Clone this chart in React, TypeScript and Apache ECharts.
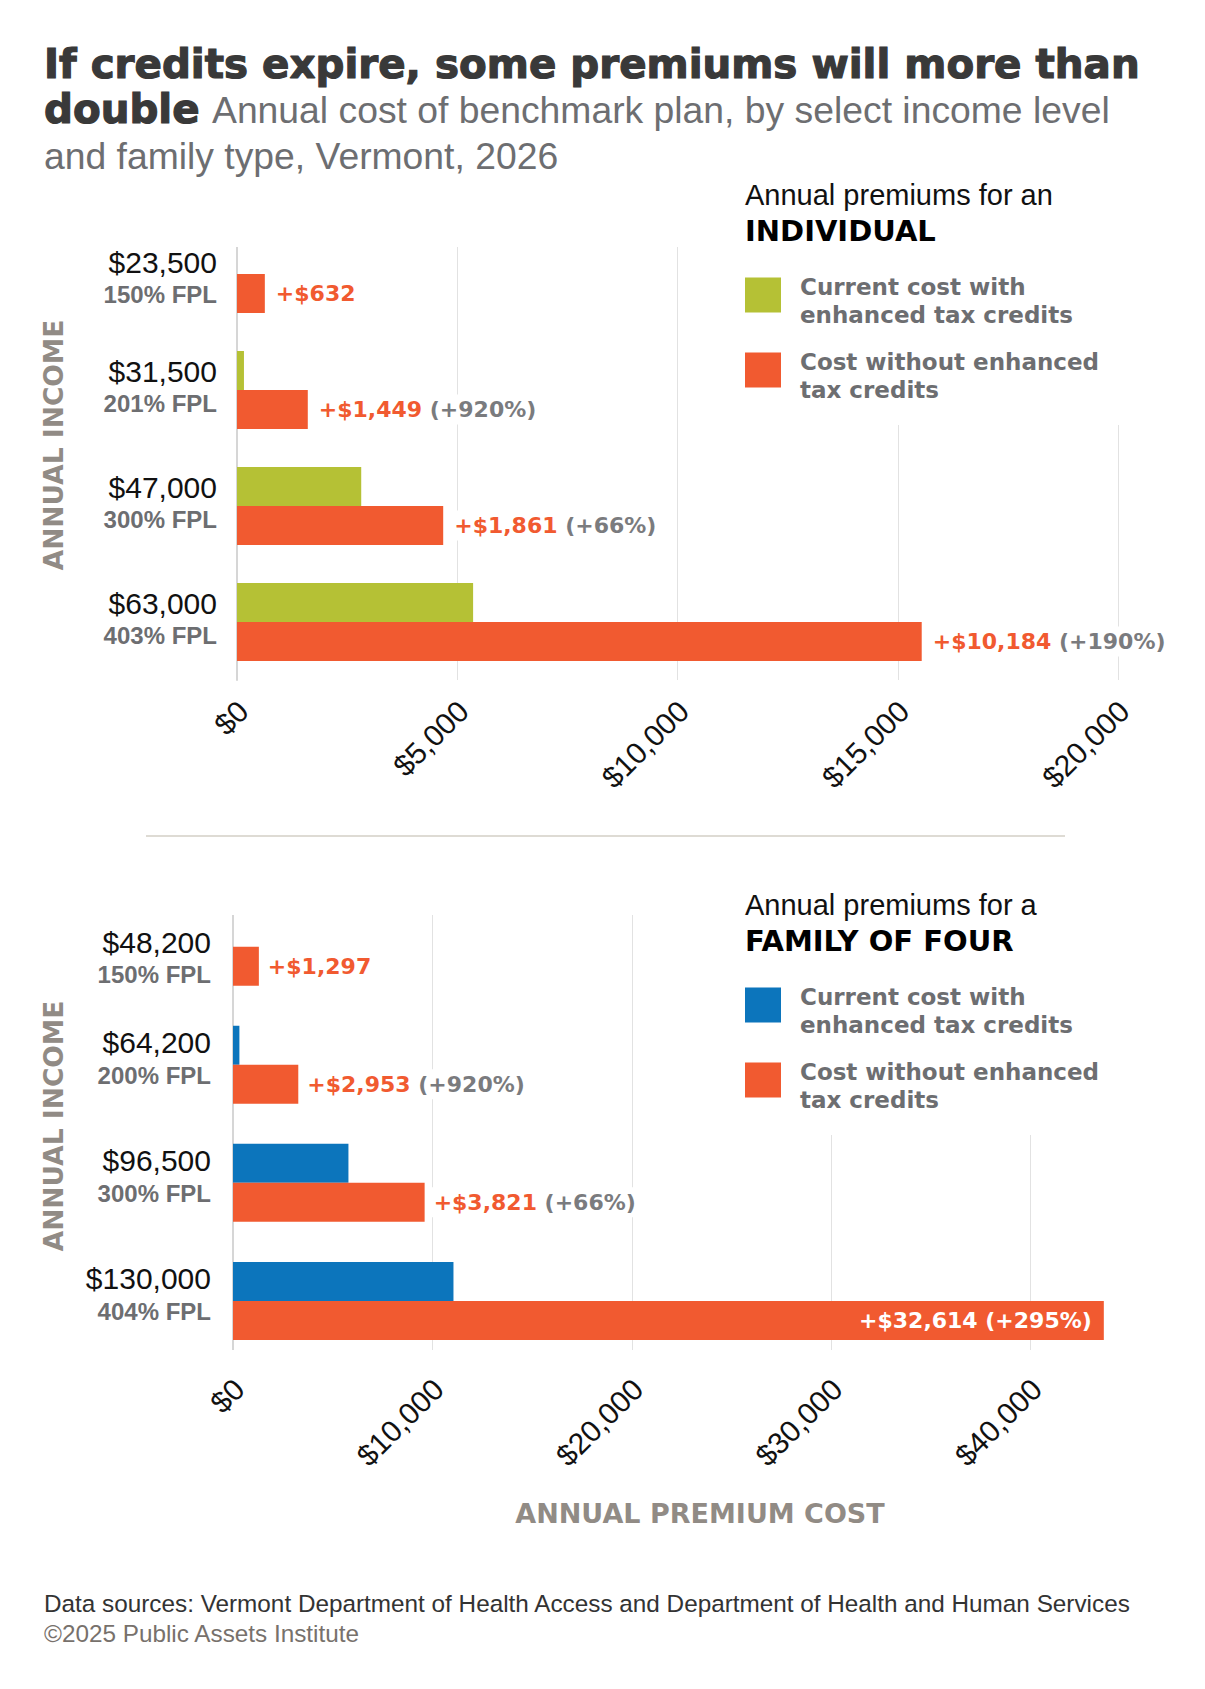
import React, { useEffect, useRef } from "react";
import * as echarts from "echarts";

// ---------- DATA ----------
const individualIncome = ["$23,500", "$31,500", "$47,000", "$63,000"];
const individualFpl = ["150% FPL", "201% FPL", "300% FPL", "403% FPL"];
const individualCurrent = [0, 158, 2820, 5360];
const individualWithout = [632, 1607, 4681, 15544];
const individualIncrease = ["+$632", "+$1,449", "+$1,861", "+$10,184"];
const individualPct = ["", "(+920%)", "(+66%)", "(+190%)"];
const individualAxisMax = 20000;
const individualAxisStep = 5000;

const familyIncome = ["$48,200", "$64,200", "$96,500", "$130,000"];
const familyFpl = ["150% FPL", "200% FPL", "300% FPL", "404% FPL"];
const familyCurrent = [0, 321, 5789, 11056];
const familyWithout = [1297, 3274, 9610, 43670];
const familyIncrease = ["+$1,297", "+$2,953", "+$3,821", "+$32,614"];
const familyPct = ["", "(+920%)", "(+66%)", "(+295%)"];
const familyAxisMax = 44000;
const familyAxisStep = 10000;

// ---------- STYLE ----------
const ORANGE = "#F15A30";
const GREEN = "#B5C135";
const BLUE = "#0C75BC";
const GRAY = "#6D6E71";
const PCT_GRAY = "#7A7B7E";
const AXIS_TITLE = "#918B85";
const SANS = "'Liberation Sans', Arial, sans-serif";
const WIDE = "'DejaVu Sans', Verdana, sans-serif";

const money = (v: number) => "$" + Math.round(v).toLocaleString("en-US");

function txt(
  x: number,
  baseline: number,
  text: string,
  fontSize: number,
  fontFamily: string,
  fontWeight: string,
  fill: string,
  extra: any = {}
) {
  return {
    type: "text",
    x,
    y: baseline - 0.35 * fontSize,
    z: 10,
    style: {
      text,
      fontSize,
      fontFamily,
      fontWeight,
      fill,
      align: "left",
      verticalAlign: "middle",
      ...extra,
    },
  };
}

function catData(inc: string[], fpl: string[], firstPad: number[], restPad: number[]) {
  return inc.map((v, i) => ({
    value: v + "\n" + fpl[i],
    textStyle: { padding: i === 0 ? firstPad : restPad },
  }));
}

const richLabel = {
  a: { fontSize: 22, fontFamily: WIDE, fontWeight: "bold", color: ORANGE },
  b: { fontSize: 22, fontFamily: WIDE, fontWeight: "bold", color: PCT_GRAY },
};
const richLabelWhite = {
  a: { fontSize: 22, fontFamily: WIDE, fontWeight: "bold", color: "#fff" },
  b: { fontSize: 22, fontFamily: WIDE, fontWeight: "bold", color: "#fff" },
};

function withoutData(values: number[], insideLast: boolean) {
  return values.map((v, i) => {
    if (insideLast && i === values.length - 1) {
      return {
        value: v,
        label: {
          show: true,
          position: "insideRight",
          distance: 12,
          backgroundColor: "transparent",
          padding: 0,
          rich: richLabelWhite,
        },
      };
    }
    return v;
  });
}

function makeLabelFormatter(inc: string[], pct: string[]) {
  return (p: any) => {
    const i = p.dataIndex;
    return pct[i] ? `{a|${inc[i]}}{b| ${pct[i]}}` : `{a|${inc[i]}}`;
  };
}

const yLabelFormatter = (val: string) => {
  const parts = String(val).split("\n");
  return `{a|${parts[0]}}\n{b|${parts[1]}}`;
};

const yRich = {
  a: { fontSize: 30, fontFamily: SANS, color: "#111", lineHeight: 33, align: "right" },
  b: { fontSize: 24, fontFamily: SANS, fontWeight: "bold", color: GRAY, lineHeight: 32, align: "right" },
};

function legend(top: number, title: string, heading: string, color1: string) {
  const sq1 = top + 72.5;
  const sq2 = sq1 + 75;
  return [
    txt(745, top, title, 29, SANS, "normal", "#111"),
    txt(745, top + 36, heading, 29, WIDE, "bold", "#000"),
    { type: "rect", z: 10, shape: { x: 745, y: sq1, width: 36, height: 35 }, style: { fill: color1 } },
    txt(800, sq1 + 17.5, "Current cost with", 23, WIDE, "bold", GRAY),
    txt(800, sq1 + 45.5, "enhanced tax credits", 23, WIDE, "bold", GRAY),
    { type: "rect", z: 10, shape: { x: 745, y: sq2, width: 36, height: 35 }, style: { fill: ORANGE } },
    txt(800, sq2 + 17.5, "Cost without enhanced", 23, WIDE, "bold", GRAY),
    txt(800, sq2 + 45.5, "tax credits", 23, WIDE, "bold", GRAY),
  ];
}

function cover(x: number, y: number, w: number, h: number) {
  return { type: "rect", z: 1, shape: { x, y, width: w, height: h }, style: { fill: "#fff" } };
}

export default function App() {
  const ref = useRef<HTMLDivElement>(null);

  useEffect(() => {
    document.body.style.margin = "0";
    const chart = echarts.init(ref.current!, undefined, { renderer: "svg" });

    const xLabel = (margin: number) => ({
      rotate: 45,
      margin,
      fontSize: 30,
      lineHeight: 17,
      fontFamily: SANS,
      color: "#111",
      verticalAlign: "top",
      formatter: (v: number) => money(v),
      showMaxLabel: false,
    });

    const option: any = {
      animation: false,
      backgroundColor: "#fff",
      grid: [
        { left: 237, top: 216, width: 881, height: 464, outerBoundsMode: "none", containLabel: false },
        { left: 233, top: 887.6, width: 877.4, height: 472.4, outerBoundsMode: "none", containLabel: false },
      ],
      xAxis: [
        {
          type: "value",
          gridIndex: 0,
          min: 0,
          max: individualAxisMax,
          interval: individualAxisStep,
          axisLine: { show: false },
          axisTick: { show: false },
          splitLine: { show: true, lineStyle: { color: "#e2e2e2", width: 1 } },
          axisLabel: { ...xLabel(20), showMaxLabel: true },
        },
        {
          type: "value",
          gridIndex: 1,
          min: 0,
          max: familyAxisMax,
          interval: familyAxisStep,
          axisLine: { show: false },
          axisTick: { show: false },
          splitLine: { show: true, showMaxLine: false, lineStyle: { color: "#e2e2e2", width: 1 } },
          axisLabel: xLabel(18),
        },
      ],
      yAxis: [
        {
          type: "category",
          gridIndex: 0,
          inverse: true,
          data: catData(individualIncome, individualFpl, [8, 0, 0, 0], [0, 0, 6, 0]),
          axisLine: { show: true, lineStyle: { color: "#d6d6d6", width: 2 } },
          axisTick: { show: false },
          axisLabel: { margin: 20, formatter: yLabelFormatter, rich: yRich },
        },
        {
          type: "category",
          gridIndex: 1,
          inverse: true,
          data: catData(familyIncome, familyFpl, [23, 0, 0, 0], [0, 0, 12, 0]),
          axisLine: { show: true, lineStyle: { color: "#d6d6d6", width: 2 } },
          axisTick: { show: false },
          axisLabel: { margin: 22, formatter: yLabelFormatter, rich: yRich },
        },
      ],
      series: [
        {
          type: "bar",
          name: "Current cost with enhanced tax credits",
          xAxisIndex: 0,
          yAxisIndex: 0,
          data: individualCurrent,
          barWidth: 39,
          barGap: "0%",
          itemStyle: { color: GREEN },
          silent: true,
        },
        {
          type: "bar",
          name: "Cost without enhanced tax credits",
          xAxisIndex: 0,
          yAxisIndex: 0,
          data: withoutData(individualWithout, false),
          barWidth: 39,
          barGap: "0%",
          itemStyle: { color: ORANGE },
          silent: true,
          label: {
            show: true,
            position: "right",
            distance: 7,
            backgroundColor: "#fff",
            padding: [4, 6, 4, 4],
            formatter: makeLabelFormatter(individualIncrease, individualPct),
            rich: richLabel,
          },
        },
        {
          type: "bar",
          name: "Current cost with enhanced tax credits",
          xAxisIndex: 1,
          yAxisIndex: 1,
          data: familyCurrent,
          barWidth: 39,
          barGap: "0%",
          itemStyle: { color: BLUE },
          silent: true,
        },
        {
          type: "bar",
          name: "Cost without enhanced tax credits",
          xAxisIndex: 1,
          yAxisIndex: 1,
          data: withoutData(familyWithout, true),
          barWidth: 39,
          barGap: "0%",
          itemStyle: { color: ORANGE },
          silent: true,
          label: {
            show: true,
            position: "right",
            distance: 5,
            backgroundColor: "#fff",
            padding: [4, 6, 4, 4],
            formatter: makeLabelFormatter(familyIncrease, familyPct),
            rich: richLabel,
          },
        },
      ],
      graphic: {
        elements: [
          cover(220, 195, 985, 52),
          cover(690, 195, 515, 230),
          cover(220, 870, 985, 45),
          cover(690, 870, 515, 265),
          cover(220, 1350, 985, 11),
          txt(44, 78, "If credits expire, some premiums will more than", 40.4, WIDE, "bold", "#393939", {
            stroke: "#393939",
            lineWidth: 1.2,
          }),
          txt(44, 123, "double", 40.4, WIDE, "bold", "#393939", { stroke: "#393939", lineWidth: 1.2 }),
          txt(212, 123, "Annual cost of benchmark plan, by select income level", 37.3, SANS, "normal", GRAY),
          txt(44, 169, "and family type, Vermont, 2026", 37.3, SANS, "normal", GRAY),
          ...legend(205, "Annual premiums for an", "INDIVIDUAL", GREEN),
          ...legend(915, "Annual premiums for a", "FAMILY OF FOUR", BLUE),
          {
            type: "text",
            x: 53,
            y: 445,
            rotation: Math.PI / 2,
            z: 10,
            style: {
              text: "ANNUAL INCOME",
              fontSize: 26.5,
              fontFamily: WIDE,
              fontWeight: "bold",
              fill: AXIS_TITLE,
              align: "center",
              verticalAlign: "middle",
            },
          },
          {
            type: "text",
            x: 53,
            y: 1126,
            rotation: Math.PI / 2,
            z: 10,
            style: {
              text: "ANNUAL INCOME",
              fontSize: 26.5,
              fontFamily: WIDE,
              fontWeight: "bold",
              fill: AXIS_TITLE,
              align: "center",
              verticalAlign: "middle",
            },
          },
          {
            type: "text",
            x: 700,
            y: 1523 - 0.35 * 27,
            z: 10,
            style: {
              text: "ANNUAL PREMIUM COST",
              fontSize: 27,
              fontFamily: WIDE,
              fontWeight: "bold",
              fill: AXIS_TITLE,
              align: "center",
              verticalAlign: "middle",
            },
          },
          {
            type: "line",
            z: 10,
            shape: { x1: 146, y1: 836, x2: 1065, y2: 836 },
            style: { stroke: "#DEDBD4", lineWidth: 2 },
          },
          txt(44, 1612, "Data sources: Vermont Department of Health Access and Department of Health and Human Services", 24.3, SANS, "normal", "#333"),
          txt(44, 1642, "©2025 Public Assets Institute", 24.3, SANS, "normal", "#77716C"),
        ],
      },
    };

    chart.setOption(option);
    return () => chart.dispose();
  }, []);

  return <div ref={ref} style={{ width: 1205, height: 1689 }} />;
}
